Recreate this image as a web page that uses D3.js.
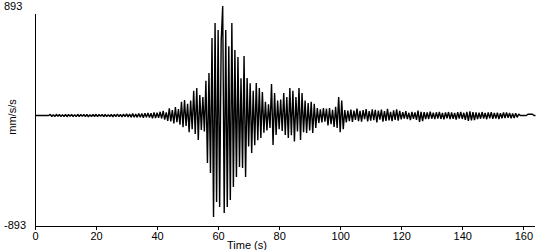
<!DOCTYPE html>
<html>
<head>
<meta charset="utf-8">
<script src="https://cdn.jsdelivr.net/npm/d3@7"></script>
<style>
  html, body { margin: 0; padding: 0; background: #fff; }
  svg { display: block; }
  text { font-family: "Liberation Sans", Arial, sans-serif; font-size: 11px; fill: #000; }
</style>
</head>
<body>
<svg id="chart" width="550" height="250"></svg>
<script>
// ---- data (mm/s/s), sampled every 0.5 s starting at t = 0 s ----
const sampleInterval = 0.5;
const startTime = 0;

// t 0 – 4.5 s
const preEvent = [0,0,0,0,0,0,0,0,0,0];
// t 5 – 40.5 s
const quietNoise = [
  9,-8,7,-9,10,-7,8,-9,7,-8,9,-10,8,-7,9,-8,7,-9,10,-8,
  8,-7,9,-9,8,-10,7,-8,9,-8,10,-9,8,-7,9,-10,8,-9,7,-8,
  9,-11,10,-9,12,-10,9,-12,11,-10,13,-11,12,-14,15,-13,12,-15,17,-14,
  16,-18,19,-15,21,-17,18,-23,25,-20,22,-19
];
// t 41 – 51.5 s
const onset = [
  30,-24,38,-34,26,-44,
  58,-48,44,-64,68,-54,52,-74,
  110,-95,125,-84,95,-135,120,-110
];
// t 52 – 68 s
const strongMotion = [
  200,-150,222,-198,165,-117,150,-130,280,-384,
  343,-465,626,-820,747,-700,691,-739,600,885,-788,691,-739,560,-683,747,-578,529,-497,473,-416,300,-424
];
// t 68.5 – 103 s
const coda = [
  480,-497,303,-250,260,-303,200,-240,263,-200,
  222,-182,190,-140,110,-120,90,-100,255,-238,
  182,-158,120,-110,130,-125,182,-158,150,-182,
  222,-160,200,-210,150,-130,222,-198,182,-135,
  120,-141,101,-120,110,-141,95,-100,61,-61,
  50,-55,60,-50,55,-80,60,-70,45,-93,
  70,-100,149,-135,120,-110,44,-55,40,-45
];
// t 103.5 – 119.5 s
const lateCoda = [
  48,-52,40,-35,56,-45,38,-50,44,-30,52,-48,35,-42,50,-38,45,-55,40,-33,
  47,-50,36,-44,53,-40,30,-46,42,-36,50,-41,38
];
// t 120 – 158.5 s
const tailNoise = [
  -32,28,-25,35,-30,22,-38,30,-27,25,
  -35,40,-52,30,-45,28,-30,24,-28,32,
  -26,22,-30,26,-24,30,-28,20,-32,25,
  -22,28,-30,24,-26,20,-34,27,-24,30,
  -28,22,-36,30,-44,34,-40,28,-38,25,
  -30,22,-26,28,-24,20,-30,25,-22,27,
  -26,20,-24,22,-28,18,-22,25,-20,24,
  -18,20,-22,16,-20,18,-15,12
];
// t 159 – 164 s
const endRecord = [0,0,0,0,0,10,10,10,10,0,0];

const yLimit = 893;
const xTicks = [0,20,40,60,80,100,120,140,160];
const yTickLabels = ["893","-893"];
const xTitle = "Time (s)";
const yTitle = "mm/s/s";

// ---- build series ----
const values = [].concat(preEvent, quietNoise, onset, strongMotion, coda, lateCoda, tailNoise, endRecord);
const series = values.map((v, i) => ({ t: startTime + i * sampleInterval, v }));

// ---- chart ----
const svg = d3.select("#chart");
svg.append("rect").attr("width", 550).attr("height", 250).attr("fill", "#fff");

const x = d3.scaleLinear().domain([0, 163.5]).range([35, 534]);
const y = d3.scaleLinear().domain([-yLimit, yLimit]).range([226, 5]);

// trace
const line = d3.line().x(d => x(d.t)).y(d => y(d.v));
svg.append("path")
  .datum(series)
  .attr("d", line)
  .attr("fill", "none")
  .attr("stroke", "#000")
  .attr("stroke-width", 1.4)
  .attr("stroke-linejoin", "miter")
  .attr("stroke-miterlimit", 1);

// x axis
const xAxis = d3.axisBottom(x).tickValues(xTicks).tickSize(4).tickSizeOuter(0).tickPadding(2);
const gx = svg.append("g").attr("transform", "translate(0,226)").call(xAxis);
gx.select(".domain").attr("stroke", "#000").attr("shape-rendering", "crispEdges");
gx.selectAll(".tick line").attr("stroke", "#000").attr("shape-rendering", "crispEdges");
gx.selectAll(".tick text")
  .attr("font-family", "Liberation Sans, Arial, sans-serif")
  .attr("font-size", 11)
  .attr("fill", "#000");

// y axis line
svg.append("line")
  .attr("x1", x(0)).attr("x2", x(0))
  .attr("y1", 14).attr("y2", 226)
  .attr("stroke", "#000")
  .attr("shape-rendering", "crispEdges");

// y labels
svg.append("text").attr("x", 4).attr("y", y(yLimit) + 5).text(yTickLabels[0]);
svg.append("text").attr("x", 4).attr("y", y(-yLimit) + 3).text(yTickLabels[1]);

// titles
svg.append("text")
  .attr("x", 247).attr("y", 249)
  .attr("text-anchor", "middle")
  .text(xTitle);
svg.append("text")
  .attr("transform", "translate(16,117) rotate(-90)")
  .attr("text-anchor", "middle")
  .text(yTitle);
</script>
</body>
</html>
